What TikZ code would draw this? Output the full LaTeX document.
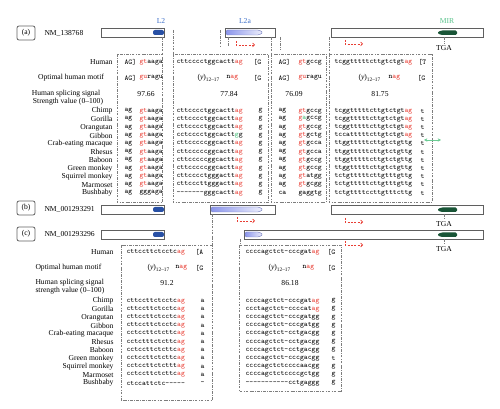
\documentclass[tikz,border=0pt]{standalone}
\usepackage{fontspec}
\setmainfont{Liberation Serif}
\usetikzlibrary{arrows.meta}
\definecolor{splred}{RGB}{232,62,52}
\definecolor{mutgreen}{RGB}{70,190,120}
\definecolor{lblblue}{RGB}{60,110,200}
\definecolor{mirgreen}{RGB}{90,195,140}
\definecolor{lineg}{RGB}{125,125,125}
\definecolor{barg}{RGB}{95,95,95}
\definecolor{ltwo}{RGB}{40,80,165}
\definecolor{ltwoa}{RGB}{140,150,235}
\definecolor{mirdark}{RGB}{25,85,55}
\newcommand{\rd}[1]{\textcolor{splred}{#1}}
\newcommand{\gn}[1]{\textcolor{mutgreen}{#1}}
\newcommand{\motif}{(\textit{y})\textsubscript{12--17}}
\tikzset{every picture/.style={line width=0.75pt}}
\tikzset{
  lbl/.style={font=\fontsize{5.7}{6.5}\selectfont, inner sep=0pt},
  spec/.style={lbl, anchor=east},
  seq/.style={font=\fontsize{5.5}{6}\ttfamily, inner sep=0pt, anchor=west},
  tagbox/.style={draw=barg, rounded corners=1.5pt, line width=0.6pt, minimum width=13.5pt, minimum height=10.5pt, inner sep=0pt, font=\fontsize{5.7}{6.5}\selectfont},
  exonbar/.style={draw=barg, fill=white, line width=0.6pt},
  l2a/.style={left color=ltwoa, right color=ltwoa!15, draw=ltwoa!80!black, line width=0.3pt, rounded corners=1pt},
  guide/.style={draw=lineg, line width=0.45pt, dash pattern=on 2pt off 1pt on 0.4pt off 1pt},
  redarr/.style={draw=splred, line width=0.45pt, dash pattern=on 1.5pt off 1pt, -{Straight Barb[length=1.5pt,width=3pt]}},
}

\begin{document}
\begin{tikzpicture}[x=0.75pt,y=0.75pt,yscale=-1,xscale=1]
	\useasboundingbox (0,0) rectangle (500,409);
	
	%%%%% Panel (a)
	\node[tagbox] (tag-a) at (26,33) {(a)};
	\node[lbl, anchor=west] (nm-a) at (44,33) {NM\_138768};
	%Shape: exon bars
	\draw[exonbar] (101,28) rectangle (164,37);
	\fill[ltwo, rounded corners=1.5pt] (153,30) rectangle (164,35);
	\draw[exonbar] (225,28) rectangle (275,37);
	\shade[l2a] (226,30) -- (259,30) -- (263,32.5) -- (259,35) -- (226,35) -- cycle;
	\draw[exonbar] (331,28) rectangle (483,37);
	\fill[mirdark, rounded corners=1pt] (457,30.5) -- (441,30.5) -- (437,32.75) -- (441,35) -- (457,35) -- cycle;
	% repeat labels
	\node[lbl, text=lblblue] (rep-l2) at (161,21) {L2};
	\node[lbl, text=lblblue] (rep-l2a) at (245,21) {L2a};
	\node[lbl, text=mirgreen] (rep-mir) at (447,21) {MIR};
	% stop codon
	\draw[guide] (444,37) -- (444,43);
	\node[lbl] (tga-a) at (444,48) {TGA};
	% reading direction
	\draw[redarr] (236,41) -- (236,45) -- (255,45);
	\draw[redarr] (345,40) -- (345,44) -- (363,44);
	
	%Shape: alignment boxes
	\draw[guide] (117,54) rectangle (162.5,202);
	\draw[guide] (173,54) rectangle (268,202);
	\draw[guide] (271,54) rectangle (326,202);
	\draw[guide] (329,54) rectangle (432,202);
	%Straight Lines: exon borders
	\draw[guide] (162.5,37) -- (162.5,54);
	\draw[guide] (173,30) -- (173,54);
	\draw[guide] (220,30) -- (220,46);
	\draw[guide] (228,37) -- (228,46);
	\draw[guide] (271,37) -- (271,54);
	\draw[guide] (280,37) -- (280,50);
	\draw[guide] (329,37) -- (329,54);
	
	% Text Node: row titles
	\node[spec] (hum-a) at (113,62) {Human};
	\node[lbl] (opt-a) at (71,78) {Optimal human motif};
	\node[lbl] (sig-a) at (66,94) {Human splicing signal};
	\node[lbl] (str-a) at (68,102) {Strength value (0--100)};
	% Text Node: human sequence
	\node[seq] (h-a1) at (124,62) {AG]};
	\node[seq] (h-a2) at (139,62) {\rd{gt}aaga};
	\node[seq] (h-a3) at (176,62) {cttcccctggcactt\rd{ag}};
	\node[seq] (h-a4) at (253,62) {[G};
	\node[seq] (h-a5) at (278,62) {AG]};
	\node[seq] (h-a6) at (298,62) {\rd{gt}gccg};
	\node[seq] (h-a7) at (334,62) {tcggtttttcttgtctgt\rd{ag}};
	\node[seq] (h-a8) at (418,62) {[T};
	% Text Node: optimal motif
	\node[seq] (o-a1) at (124,78) {AG]};
	\node[seq] (o-a2) at (139,78) {\rd{gu}ragu};
	\node[lbl, anchor=west] (o-a3) at (197,78) {\motif};
	\node[seq] (o-a4) at (226,78) {n\rd{ag}};
	\node[seq] (o-a5) at (253,78) {[G};
	\node[seq] (o-a6) at (278,78) {AG]};
	\node[seq] (o-a7) at (298,78) {\rd{gu}ragu};
	\node[lbl, anchor=west] (o-a8) at (358,78) {\motif};
	\node[seq] (o-a9) at (388,78) {n\rd{ag}};
	\node[seq] (o-a10) at (417,78) {[G};
	% Text Node: signal strength
	\node[lbl] (v-a1) at (146,94) {97.66};
	\node[lbl] (v-a2) at (229,94) {77.84};
	\node[lbl] (v-a3) at (294,94) {76.09};
	\node[lbl] (v-a4) at (380,94) {81.75};
	
	% species rows
	\foreach \sp/\ca/\cb/\cc/\cd/\ce/\cf [count=\i from 0] in {
		Chimp/ag/\rd{gt}aaga/cttcccctggcactt\rd{ag}/ag/\rd{gt}gccg/tcggtttttcttgtctgt\rd{ag},
		Gorilla/ag/\rd{gt}aaga/cttcccctggcactt\rd{ag}/ag/\rd{g}\gn{a}gccg/tcggtttttcttgtctgt\rd{ag},
		Orangutan/ag/\rd{gt}aaga/cttcccctggcactt\rd{ag}/ag/\rd{gt}gccg/tcggtttttcttgtctgt\rd{ag},
		Gibbon/ag/\rd{gt}aaga/cctcccctggcactt\gn{g}g/ag/\rd{gt}gctg/tccatttttcttgtctgt\rd{ag},
		Crab-eating macaque/ag/\rd{gt}aaga/cttcccccggcactt\rd{ag}/ag/\rd{gt}gcca/ttggtttttcttgtctgttg,
		Rhesus/ag/\rd{gt}aaga/cttcccccggcactt\rd{ag}/ag/\rd{gt}gcca/ttggtttttcttgtctgttg,
		Baboon/ag/\rd{gt}aaga/cttcccccggcactt\rd{ag}/ag/\rd{gt}gccg/ttggtttttcttgtctgttg,
		Green monkey/ag/\rd{gt}aaga/cttcccccggcactt\rd{ag}/ag/\rd{gt}gccg/ttggtttttcttgtctgttg,
		Squirrel monkey/ag/\rd{gt}aaga/cttcccctgggactt\rd{ag}/ag/\rd{gt}atgg/tctgtttttcttgtttgttg,
		Marmoset/ag/\rd{gt}aaga/cttcccttgggactt\rd{ag}/ag/\rd{gt}gcgg/tctgtttttcttgtttgttg,
		Bushbaby/ag/gggaga/-------gggcactt\rd{ag}/ca/gaggtg/tctgttttccttgtttcttg} {
		\pgfmathsetmacro{\yy}{111+8.2*\i}
		\node[spec] (sp-a\i) at (113,\yy) {\sp};
		\node[seq] (s-a\i-1) at (124,\yy) {\ca};
		\node[seq] (s-a\i-2) at (139,\yy) {\cb};
		\node[seq] (s-a\i-3) at (176,\yy) {\cc};
		\node[seq] (s-a\i-4) at (258,\yy) {g};
		\node[seq] (s-a\i-5) at (278,\yy) {\cd};
		\node[seq] (s-a\i-6) at (298,\yy) {\ce};
		\node[seq] (s-a\i-7) at (334,\yy) {\cf};
		\node[seq] (s-a\i-8) at (420,\yy) {t};
	}
	% changed acceptor
	\draw[mutgreen!80, line width=0.6pt, {Stealth[length=2.5pt,width=2.5pt]}-{Stealth[length=2.5pt,width=2.5pt]}] (424,140) -- (441,140);
	
	%%%%% Panel (b)
	\node[tagbox] (tag-b) at (26,208) {(b)};
	\node[lbl, anchor=west] (nm-b) at (44,209) {NM\_001293291};
	\draw[exonbar] (101,205) rectangle (164,214);
	\fill[ltwo, rounded corners=1.5pt] (153,207) rectangle (164,212);
	\draw[exonbar] (210,205) rectangle (275,214);
	\shade[l2a] (211,207) -- (259,207) -- (263,209.5) -- (259,212) -- (211,212) -- cycle;
	\draw[exonbar] (331,205) rectangle (483,214);
	\fill[mirdark, rounded corners=1pt] (457,207.5) -- (441,207.5) -- (437,209.75) -- (441,212) -- (457,212) -- cycle;
	\draw[guide] (444,214) -- (444,219);
	\node[lbl] (tga-b) at (444,224) {TGA};
	\draw[redarr] (237,217) -- (237,221) -- (255,221);
	\draw[redarr] (345,218) -- (345,222) -- (363,222);
	
	%%%%% Panel (c)
	\node[tagbox] (tag-c) at (26,234) {(c)};
	\node[lbl, anchor=west] (nm-c) at (44,234) {NM\_001293296};
	\draw[exonbar] (101,230) rectangle (164,239);
	\fill[ltwo, rounded corners=1.5pt] (153,232) rectangle (164,237);
	\draw[exonbar] (244,230) rectangle (483,239);
	\shade[l2a] (245,232) -- (259,232) -- (263,234.5) -- (259,237) -- (245,237) -- cycle;
	\fill[mirdark, rounded corners=1pt] (457,232.5) -- (441,232.5) -- (437,234.75) -- (441,237) -- (457,237) -- cycle;
	\draw[guide] (444,239) -- (444,244);
	\node[lbl] (tga-c) at (444,249) {TGA};
	\draw[redarr] (345,241) -- (345,245) -- (363,245);
	
	%Shape: alignment boxes
	\draw[guide] (121,245) rectangle (212,400);
	\draw[guide] (239,245) rectangle (341,391);
	\draw[guide] (212,214) -- (212,245);
	\draw[guide] (240,239) -- (240,245);
	
	% Text Node: row titles
	\node[spec] (hum-c) at (114,252) {Human};
	\node[lbl, anchor=west] (opt-c) at (35,268) {Optimal human motif};
	\node[lbl, anchor=west] (sig-c) at (35,283) {Human splicing signal};
	\node[lbl, anchor=west] (str-c) at (35,291) {strength value (0--100)};
	\node[seq] (h-c1) at (126,252) {cttccttctcctc\rd{ag}};
	\node[seq] (h-c2) at (195,252) {[A};
	\node[seq] (h-c3) at (245,252) {ccccagctct-cccgat\rd{ag}};
	\node[seq] (h-c4) at (327,252) {[G};
	\node[lbl, anchor=west] (o-c1) at (147,268) {\motif};
	\node[seq] (o-c2) at (175,268) {n\rd{ag}};
	\node[seq] (o-c3) at (195,268) {[G};
	\node[lbl, anchor=west] (o-c4) at (268,268) {\motif};
	\node[seq] (o-c5) at (302,268) {n\rd{ag}};
	\node[seq] (o-c6) at (327,268) {[G};
	\node[lbl] (v-c1) at (167,283) {91.2};
	\node[lbl] (v-c2) at (290,283) {86.18};
	
	\foreach \sp/\ca/\cb/\cc/\cd [count=\i from 0] in {
		Chimp/cttccttctcctc\rd{ag}/a/ccccagctct-cccgat\rd{ag}/g,
		Gorilla/cttccttctcctc\rd{ag}/a/ccctagctct-ccccat\rd{ag}/g,
		Orangutan/cttccttctcctc\rd{ag}/a/ccccagctct-cccgatgg/g,
		Gibbon/cttccttctcctc\rd{ag}/a/ccccagctct-cccgatgg/g,
		Crab-eating macaque/cctccttctcttc\rd{ag}/a/ccccagctct-cctgacgg/g,
		Rhesus/cctctttctcttc\rd{ag}/a/ccccagctct-cctgacgg/g,
		Baboon/cctccttctcttc\rd{ag}/a/ccccagctct-cctgacgg/g,
		Green monkey/cctccttctcttc\rd{ag}/a/ccccagctct-cccgacgg/t,
		Squirrel monkey/cctccttctcttt\rd{ag}/a/ccccagctctccccaacgg/g,
		Marmoset/cctccttctcttc\rd{ag}/a/ccccagctctccccgctgg/g,
		Bushbaby/ctccattctc-----/-/-----------cctgaggg/g} {
		\pgfmathsetmacro{\yy}{301+8.2*\i}
		\node[spec] (sp-c\i) at (114,\yy) {\sp};
		\node[seq] (s-c\i-1) at (126,\yy) {\ca};
		\node[seq] (s-c\i-2) at (200,\yy) {\cb};
		\node[seq] (s-c\i-3) at (245,\yy) {\cc};
		\node[seq] (s-c\i-4) at (331,\yy) {\cd};
	}
	
\end{tikzpicture}
\end{document}
